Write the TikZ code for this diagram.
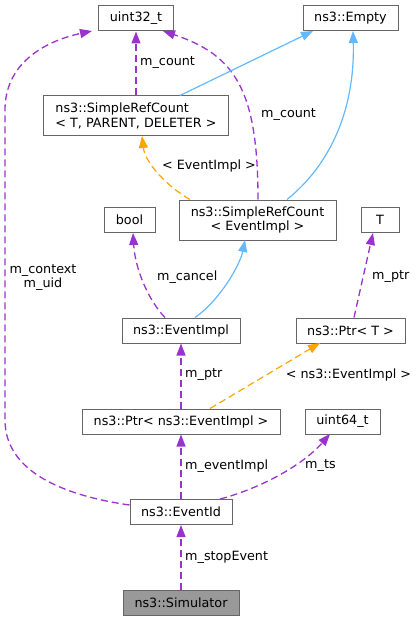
\documentclass[tikz,border=0pt]{standalone}
\usepackage{fontspec}
\setmainfont{DejaVu Sans}
\usetikzlibrary{arrows.meta}
\definecolor{usecol}{HTML}{9A32CD}
\definecolor{inhcol}{HTML}{63B8FF}
\definecolor{tplcol}{HTML}{FFA500}
\definecolor{boxcol}{HTML}{666666}
\definecolor{curcol}{HTML}{999999}
\begin{document}
\begin{tikzpicture}[x=1bp, y=-1bp,
        every node/.style={font=\fontsize{12.8}{15}\selectfont},
        cls/.style={draw=boxcol, line width=1bp, fill=white, inner sep=0pt, minimum height=25bp},
        usage/.style={color=usecol, line width=1.3bp, dash pattern=on 7bp off 4bp, -{Triangle[length=12bp,width=9bp]}},
        inherit/.style={color=inhcol, line width=1.2bp, -{Triangle[length=12bp,width=9bp]}},
        templ/.style={color=tplcol, line width=1.2bp, dash pattern=on 7bp off 4bp, -{Triangle[length=12bp,width=9bp]}},
        lbl/.style={inner sep=0pt}]
        \useasboundingbox (0, 0) rectangle (419, 621);

        % classes
        \node[cls, minimum width=75bp] (uint32) at (136, 18.5) {uint32\_t};
        \node[cls, minimum width=95bp] (empty) at (350.5, 18.5) {ns3::Empty};
        \node[cls, minimum width=184bp, minimum height=40bp, align=left] (refTPD) at (136, 116) {ns3::SimpleRefCount\\< T, PARENT, DELETER >};
        \node[cls, minimum width=157bp, minimum height=40bp, align=center] (refEI) at (257.5, 220) {ns3::SimpleRefCount\\< EventImpl >};
        \node[cls, minimum width=51bp] (bool) at (129.5, 220) {bool};
        \node[cls, minimum width=38bp] (T) at (380, 220) {T};
        \node[cls, minimum width=118bp] (impl) at (181, 330.5) {ns3::EventImpl};
        \node[cls, minimum width=109bp] (ptrT) at (350.5, 330.5) {ns3::Ptr< T >};
        \node[cls, minimum width=198bp] (ptrEI) at (181, 421.5) {ns3::Ptr< ns3::EventImpl >};
        \node[cls, minimum width=75bp] (uint64) at (342.5, 421.5) {uint64\_t};
        \node[cls, minimum width=102bp] (eid) at (181, 512) {ns3::EventId};
        \node[cls, minimum width=116bp, fill=curcol] (sim) at (181, 602.5) {ns3::Simulator};

        % edges
        \draw[usage] (refTPD.north) -- (uint32.south);
        \draw[usage] (refEI.north) ++(0.5, 0) .. controls (258, 90) and (235, 55) .. (163, 31);
        \draw[inherit] (refTPD.north) ++(44, 0) -- (313, 31);
        \draw[inherit] (refEI.north) ++(29.5, 0) .. controls (330, 165) and (355, 110) .. (353, 31);
        \draw[templ] (refEI.north) ++(-67.5, 0) .. controls (165, 185) and (145, 162) .. (142, 136);
        \draw[usage] (impl.north) ++(-16, 0) .. controls (148, 300) and (135, 268) .. (133, 233);
        \draw[inherit] (impl.north) ++(14, 0) .. controls (220, 300) and (240, 265) .. (245, 240);
        \draw[usage] (ptrT.north) ++(3.5, 0) -- (373, 233);
        \draw[usage] (ptrEI.north) -- (impl.south);
        \draw[templ] (ptrEI.north) ++(29, 0) -- (320, 343);
        \draw[usage] (eid.north) -- (ptrEI.south);
        \draw[usage] (eid.north) ++(39, 0) .. controls (255, 490) and (300, 468) .. (330, 434);
        \draw[usage] (eid.west) ++(0, -7) .. controls (60, 495) and (5, 470) .. (5, 420)
                -- (5, 110) .. controls (5, 60) and (50, 40) .. (92, 31);
        \draw[usage] (sim.north) -- (eid.south);

        % labels
        \node[lbl, anchor=west] (lcount1) at (140, 63) {m\_count};
        \node[lbl, anchor=west] (lcount2) at (261, 115) {m\_count};
        \node[lbl] (lref) at (209, 166) {< EventImpl >};
        \node[lbl, align=center] (lctx) at (43, 277.5) {m\_context\\m\_uid};
        \node[lbl, anchor=west] (lcancel) at (157, 277) {m\_cancel};
        \node[lbl, anchor=west] (lptr1) at (372, 277) {m\_ptr};
        \node[lbl, anchor=west] (lptr2) at (185, 375) {m\_ptr};
        \node[lbl] (lptrEI) at (348.5, 375) {< ns3::EventImpl >};
        \node[lbl, anchor=west] (lev) at (185, 466) {m\_eventImpl};
        \node[lbl, anchor=west] (lts) at (305, 466) {m\_ts};
        \node[lbl, anchor=west] (lstop) at (185, 557) {m\_stopEvent};
    \end{tikzpicture}
\end{document}
